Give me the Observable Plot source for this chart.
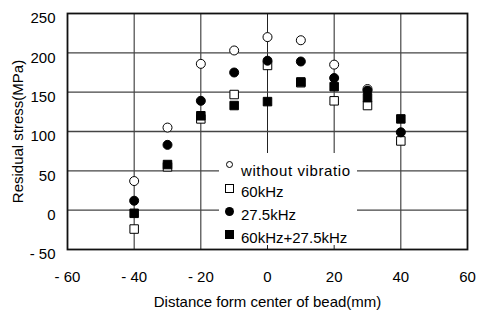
<!DOCTYPE html>
<html>
<head>
<meta charset="utf-8">
<script src="https://cdn.jsdelivr.net/npm/d3@7"></script>
<script src="https://cdn.jsdelivr.net/npm/@observablehq/plot@0.6"></script>
<style>
  html, body { margin: 0; padding: 0; background: #fff; }
  #wrap { position: relative; width: 477px; height: 311px; font-family: Arial, "Liberation Sans", sans-serif; }
  #legend { position: absolute; background: #fff; left: 219px; top: 153px; width: 138px; height: 92px; font-size: 15px; color: #000; }
  .row { position: absolute; left: 0; height: 20px; white-space: nowrap; }
  .mk { position: absolute; box-sizing: border-box; }
  .lbl { position: absolute; left: 22px; line-height: 16px; }
</style>
</head>
<body>
<div id="wrap"></div>
<script>
// ---- data ----
const distances = [-40, -30, -20, -10, 0, 10, 20, 30, 40];
const withoutVibration = [37, 105, 186, 203, 220, 216, 185, 154, null];
const vib60kHz = [-24, 55, 116, 147, 184, 162, 139, 133, 88];
const vib27kHz = [12, 83, 139, 175, 190, 189, 168, 152, 99];
const vibBoth = [-4, 58, 120, 133, 138, 163, 157, 143, 116];
const seriesNames = ["without vibratio", "60kHz", "27.5kHz", "60kHz+27.5kHz"];
const xTicks = [-60, -40, -20, 0, 20, 40, 60];
const yTicks = [-50, 0, 50, 100, 150, 200, 250];
const xGrid = [-40, -20, 0, 20, 40];
const yGrid = [0, 50, 100, 150, 200];
const xTitle = "Distance form center of bead(mm)";
const yTitle = "Residual stress(MPa)";

const toRows = (vals) => distances.map((d, i) => ({x: d, y: vals[i]})).filter(r => r.y != null);

const fmt = d => d < 0 ? "- " + Math.abs(d) : String(d);

const chart = Plot.plot({
  width: 477,
  height: 311,
  marginLeft: 67,
  marginRight: 10,
  marginTop: 13,
  marginBottom: 62,
  style: {fontFamily: "Arial, 'Liberation Sans', sans-serif", fontSize: "15px", color: "#000", background: "#fff"},
  x: {domain: [-60, 60]},
  y: {domain: [-50, 250]},
  marks: [
    Plot.ruleX(xGrid, {stroke: "#222", strokeWidth: 1}),
    Plot.ruleY(yGrid, {stroke: "#444", strokeWidth: 1.3}),
    Plot.frame({stroke: "#111", strokeWidth: 1.8}),
    Plot.axisX(xTicks, {tickSize: 0, tickPadding: 22, tickFormat: fmt, fontSize: 15, label: xTitle, labelAnchor: "center", labelOffset: 57, labelArrow: "none"}),
    Plot.axisY(yTicks, {tickSize: 0, tickPadding: 12, dy: 5, tickFormat: fmt, fontSize: 15, label: yTitle, labelAnchor: "center", labelOffset: 55, labelArrow: "none"}),
    Plot.dot(toRows(withoutVibration), {x: "x", y: "y", r: 4.5, symbol: "circle", fill: "#fff", stroke: "#000", strokeWidth: 1}),
    Plot.dot(toRows(vib60kHz), {x: "x", y: "y", r: 4.8, symbol: "square", fill: "#fff", stroke: "#000", strokeWidth: 1}),
    Plot.dot(toRows(vib27kHz), {x: "x", y: "y", r: 4.5, symbol: "circle", fill: "#000", stroke: "#000", strokeWidth: 1}),
    Plot.dot(toRows(vibBoth), {x: "x", y: "y", r: 4.8, symbol: "square", fill: "#000", stroke: "#000", strokeWidth: 1})
  ]
});

const wrap = document.getElementById("wrap");
wrap.appendChild(chart);

// legend overlay
const legend = document.createElement("div");
legend.id = "legend";
const rowsSpec = [
  {top: 7, textTop: 7, mk: "width:7px;height:7px;border:1px solid #000;border-radius:50%;background:#fff;left:7px;top:5px;"},
  {top: 31, textTop: 4, mk: "width:9px;height:9px;border:1px solid #000;background:#fff;left:6px;top:4px;"},
  {top: 54, textTop: 4, mk: "width:9px;height:9px;border-radius:50%;background:#000;left:6px;top:4px;"},
  {top: 77, textTop: 4, mk: "width:9px;height:9px;background:#000;left:6px;top:4px;"}
];
seriesNames.forEach((name, i) => {
  const row = document.createElement("div");
  row.className = "row";
  row.style.top = (rowsSpec[i].top - 4) + "px";
  const mk = document.createElement("span");
  mk.className = "mk";
  mk.style.cssText = rowsSpec[i].mk;
  const lbl = document.createElement("span");
  lbl.className = "lbl";
  lbl.style.top = rowsSpec[i].textTop + "px";
  lbl.textContent = name;
  if (i === 0) lbl.style.letterSpacing = "0.6px";
  row.appendChild(mk);
  row.appendChild(lbl);
  legend.appendChild(row);
});
wrap.appendChild(legend);
</script>
</body>
</html>
